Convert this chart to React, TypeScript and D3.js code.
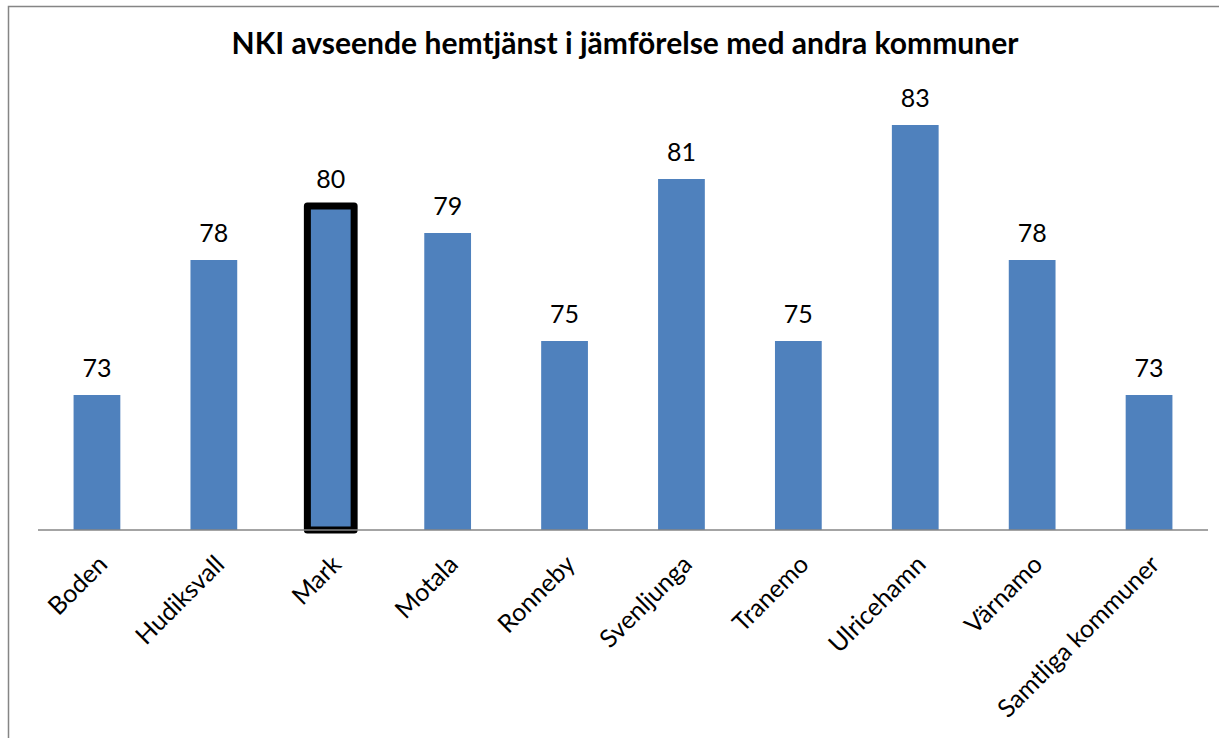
import React from 'react';
import { scaleBand, scaleLinear } from 'd3';

const categories = ['Boden', 'Hudiksvall', 'Mark', 'Motala', 'Ronneby', 'Svenljunga', 'Tranemo', 'Ulricehamn', 'Värnamo', 'Samtliga kommuner'];
const values = [73, 78, 80, 79, 75, 81, 75, 83, 78, 73];
const highlighted = ['Mark'];
const title = 'NKI avseende hemtjänst i jämförelse med andra kommuner';

const W = 1219;
const H = 738;
const font = 'Lato, "Open Sans", sans-serif';

export default function App() {
  const baseY = 530;
  const x = scaleBand<string>()
    .domain(categories)
    .range([38.5, 1207.5])
    .paddingInner(0.6)
    .paddingOuter(0.3);
  // baseline sits at 68, 83 reaches y=125
  const y = scaleLinear().domain([68, 83]).range([baseY, 125]);

  return (
    <div style={{ position: 'absolute', left: 0, top: 0, margin: 0 }}>
      <svg width={W} height={H} style={{ display: 'block', background: '#fff' }}>
        <rect x={8.5} y={6.5} width={W + 20} height={H + 20} fill="none" stroke="#858585" strokeWidth={1.5} />
        <text x={625} y={54} textAnchor="middle" fontFamily={font} fontWeight="bold" fontSize={30} fill="#000" textLength={787} lengthAdjust="spacingAndGlyphs">
          {title}
        </text>
        {categories.map((c, i) => {
          const isHi = highlighted.includes(c);
          const bx = x(c)!;
          const bw = x.bandwidth();
          return (
            <g key={c}>
              <rect
                x={bx}
                y={y(values[i])}
                width={bw}
                height={baseY - y(values[i])}
                fill="#4f81bd"
                stroke={isHi ? '#000' : 'none'}
                strokeWidth={isHi ? 7 : 0}
                strokeLinejoin="round"
              />
              <text x={bx + bw / 2} y={y(values[i]) - 18} textAnchor="middle" fontFamily={font} fontSize={25} fill="#000">
                {values[i]}
              </text>
              <text
                transform={`translate(${bx + bw / 2 + 12},${baseY + 36}) rotate(-45)`}
                textAnchor="end"
                fontFamily={font}
                fontSize={25}
                fill="#000"
              >
                {c}
              </text>
            </g>
          );
        })}
        <line x1={38} x2={1208} y1={baseY} y2={baseY} stroke="#868686" strokeWidth={1.5} />
      </svg>
    </div>
  );
}
